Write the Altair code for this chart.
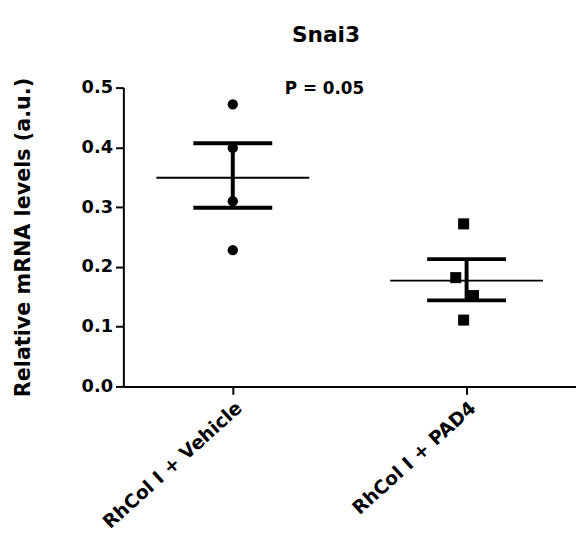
import altair as alt
import pandas as pd

groups = ["RhCol I + Vehicle", "RhCol I + PAD4"]
vehicle_values = [0.472, 0.399, 0.310, 0.228]
pad4_values = [0.272, 0.182, 0.152, 0.111]
vehicle_jitter = [0, 0, 0, 0]
pad4_jitter = [-3, -11, 7, -3]
means = [0.349, 0.177]
sem_upper = [0.407, 0.213]
sem_lower = [0.299, 0.144]
y_ticks = [0.0, 0.1, 0.2, 0.3, 0.4, 0.5]
title_text = "Snai3"
p_text = "P = 0.05"
y_title = "Relative mRNA levels (a.u.)"

FONT = "DejaVu Sans"

points = pd.DataFrame({
    "group": [groups[0]] * len(vehicle_values) + [groups[1]] * len(pad4_values),
    "value": vehicle_values + pad4_values,
    "jit": vehicle_jitter + pad4_jitter,
})
summary = pd.DataFrame({"group": groups, "mean": means, "hi": sem_upper, "lo": sem_lower})
annot = pd.DataFrame({"group": [groups[0]], "value": [0.5], "label": [p_text]})

x_enc = alt.X(
    "group:N",
    sort=groups,
    scale=alt.Scale(type="point", padding=0.468),
    axis=alt.Axis(
        title=None,
        labelAngle=-42,
        labelFontSize=19,
        labelPadding=4,
        labelLimit=400,
        tickSize=8,
    ),
)
y_scale = alt.Scale(domain=[0, 0.5], nice=False, zero=True)
y_axis = alt.Axis(
    values=y_ticks,
    format=".1f",
    title=y_title,
    titleX=-101,
    titleBaseline="middle",
    titleFontSize=21,
    titleFontWeight="bold",
    labelFontSize=18,
    labelPadding=3,
    tickSize=8,
)

pts = alt.Chart(points).mark_point(filled=True, opacity=1, color="black").encode(
    x=x_enc,
    xOffset=alt.XOffset("jit:Q", scale=alt.Scale(domain=[-20, 20], range=[-20, 20])),
    y=alt.Y("value:Q", scale=y_scale, axis=y_axis),
    shape=alt.Shape("group:N", scale=alt.Scale(domain=groups, range=["circle", "square"]), legend=None),
    size=alt.Size("group:N", scale=alt.Scale(domain=groups, range=[110, 125]), legend=None),
)

err = alt.Chart(summary).mark_rule(strokeWidth=4, color="black").encode(
    x=x_enc, y=alt.Y("lo:Q", scale=y_scale), y2="hi:Q"
)
cap_hi = alt.Chart(summary).mark_tick(size=80, thickness=4, color="black", opacity=1).encode(
    x=x_enc, y=alt.Y("hi:Q", scale=y_scale)
)
cap_lo = alt.Chart(summary).mark_tick(size=80, thickness=4, color="black", opacity=1).encode(
    x=x_enc, y=alt.Y("lo:Q", scale=y_scale)
)
mean_line = alt.Chart(summary).mark_tick(size=155, thickness=2, color="black", opacity=1).encode(
    x=x_enc, y=alt.Y("mean:Q", scale=y_scale)
)
ptext = alt.Chart(annot).mark_text(
    font=FONT, fontSize=17, fontWeight="bold", color="black",
    align="center", baseline="middle", dx=93, dy=1,
).encode(x=x_enc, y=alt.Y("value:Q", scale=y_scale), text="label:N")

chart = alt.layer(pts, err, cap_hi, cap_lo, mean_line, ptext).properties(
    width=459,
    height=303,
    autosize=alt.AutoSizeParams(type="none"),
    padding={"left": 117, "top": 77, "right": 0, "bottom": 150},
    title=alt.TitleParams(
        title_text, font=FONT, fontSize=22, fontWeight="bold", color="black",
        anchor="middle", dx=-24, offset=31,
    ),
).configure_axis(
    labelFont=FONT,
    titleFont=FONT,
    labelFontWeight="bold",
    labelColor="black",
    titleColor="black",
    domainColor="black",
    tickColor="black",
    domainWidth=2,
    tickWidth=2,
    grid=False,
).configure_view(stroke=None)

chart.save("out.html", embed_options={"renderer": "svg", "actions": False})
